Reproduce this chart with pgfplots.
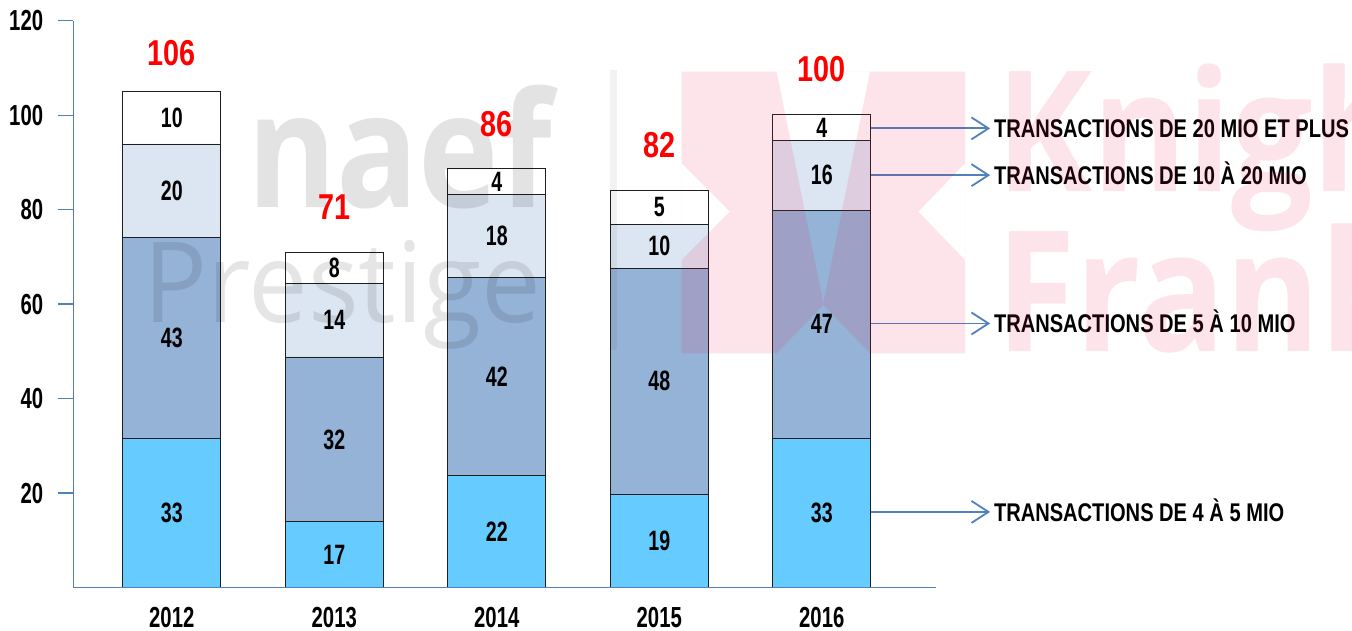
\documentclass[border=0pt]{standalone}
\usepackage{fontspec}
\setmainfont{Liberation Sans}
\newfontfamily\cf{Liberation Sans}[FakeStretch=0.70]
\newfontfamily\cfr{Liberation Sans}[FakeStretch=0.80]
\newfontfamily\cfl{Liberation Sans}[FakeStretch=0.785]
\newfontfamily\osb{Open Sans}[FakeStretch=0.85]
\newfontfamily\osr{Open Sans}[FakeStretch=0.95]
\newfontfamily\kff{Open Sans}[FakeStretch=0.86]
\usepackage{pgfplots}
\pgfplotsset{compat=1.18}
\usetikzlibrary{arrows.meta}
\definecolor{c1}{RGB}{102,204,255}
\definecolor{c2}{RGB}{149,179,215}
\definecolor{c3}{RGB}{220,230,242}
\definecolor{axblue}{RGB}{79,129,189}
\definecolor{kfred}{RGB}{230,30,80}
\definecolor{barline}{RGB}{30,30,30}
\begin{document}
\begin{tikzpicture}[x=1pt,y=1pt]
\useasboundingbox (0,0) rectangle (1352,631);
\begin{axis}[
  at={(73.3pt,43.5pt)}, anchor=south west,
  scale only axis, width=862.7pt, height=566.8pt,
  xmin=-0.606, xmax=4.703, ymin=0, ymax=120,
  ybar stacked, bar width=98pt,
  axis x line*=bottom, axis y line*=left,
  axis line style={draw=axblue, line width=1.3pt, -},
  xtick={0,1,2,3,4}, xticklabels={2012,2013,2014,2015,2016},
  ytick={20,40,60,80,100,120}, yticklabels={20,40,60,80,100,120},
  tick align=outside, major tick length=15pt,
  xtick style={draw=none},
  ytick style={draw=axblue, line width=1.3pt},
  /pgf/number format/assume math mode=true,
  ticklabel style={font=\cf\bfseries\fontsize{29}{29}\selectfont, inner sep=0pt},
  xticklabel style={anchor=north, yshift=-4.5pt},
  yticklabel style={anchor=east, xshift=-15pt},
  axis on top,
  clip=false,
]
\addplot[fill=c1, draw=barline, line width=0.9pt] coordinates {(0,31.6) (1,13.9) (2,23.8) (3,19.7) (4,31.6)};
\addplot[fill=c2, draw=barline, line width=0.9pt] coordinates {(0,42.6) (1,34.9) (2,41.8) (3,47.9) (4,48.3)};
\addplot[fill=c3, draw=barline, line width=0.9pt] coordinates {(0,19.7) (1,15.6) (2,17.6) (3,9.3) (4,14.8)};
\addplot[fill=white, draw=barline, line width=0.9pt] coordinates {(0,11.1) (1,6.5) (2,5.5) (3,7.2) (4,5.4)};
\tikzset{leg/.style={anchor=base west, text=black, inner sep=0pt, xshift=3pt, yshift=-9.2pt, font=\cfl\bfseries\fontsize{25.6}{25.6}\selectfont},
  arr/.style={draw=axblue, line width=1.8pt, -{Straight Barb[length=17pt,width=22pt]}}}
\draw[arr] (axis cs:4.3015,97.2) -- (axis cs:5.036,97.2) node[leg] {TRANSACTIONS DE 20 MIO ET PLUS};
\draw[arr] (axis cs:4.3015,87.3) -- (axis cs:5.036,87.3) node[leg] {TRANSACTIONS DE 10 À 20 MIO};
\draw[arr] (axis cs:4.3015,55.9) -- (axis cs:5.036,55.9) node[leg] {TRANSACTIONS DE 5 À 10 MIO};
\draw[arr] (axis cs:4.3015,16.0) -- (axis cs:5.036,16.0) node[leg] {TRANSACTIONS DE 4 À 5 MIO};
\end{axis}
% watermark
\begin{scope}
\clip (0,0) rectangle (1352,631);
\fill[black, opacity=0.05] (610,281) rectangle (617,561);
\node[anchor=base west, inner sep=0pt, text=black, text opacity=0.11, font=\osb\bfseries\fontsize{160}{160}\selectfont] at (247,423) {naef};
\node[anchor=base west, inner sep=0pt, text=black, text opacity=0.10, font=\osr\fontsize{112}{112}\selectfont] at (143,308) {Prestige};
\fill[kfred, opacity=0.12, even odd rule]
  (681.7,559.3) rectangle (965,277.7)
  (776.7,559.3) -- (870,559.3) -- (823.3,328) -- cycle
  (681.7,467.7) -- (730,419.3) -- (681.7,371) -- cycle
  (965,467.7) -- (918.3,419.3) -- (965,371) -- cycle
  (776.7,277.7) -- (870,277.7) -- (823.3,326) -- cycle;
\node[anchor=base west, inner sep=0pt, text=kfred, text opacity=0.12, font=\kff\bfseries\fontsize{168}{168}\selectfont] at (996,439) {Knight};
\node[anchor=base west, inner sep=0pt, text=kfred, text opacity=0.12, font=\kff\bfseries\fontsize{168}{168}\selectfont] at (996,279) {Frank};
\end{scope}
\begin{axis}[
  at={(73.3pt,43.5pt)}, anchor=south west,
  scale only axis, width=862.7pt, height=566.8pt,
  xmin=-0.606, xmax=4.703, ymin=0, ymax=120,
  axis lines=none, clip=false,
]
\addplot[only marks, mark=none,
  nodes near coords, point meta=explicit symbolic, nodes near coords align={center},
  nodes near coords style={anchor=center, inner sep=0pt, text=black, font=\cf\bfseries\fontsize{28}{28}\selectfont}]
  coordinates {
  (0,15.8) [33] (0,52.9) [43] (0,84.05) [20] (0,99.45) [10]
  (1,6.95) [17] (1,31.35) [32] (1,56.6) [14] (1,67.65) [8]
  (2,11.9) [22] (2,44.7) [42] (2,74.4) [18] (2,85.95) [4]
  (3,9.85) [19] (3,43.65) [48] (3,72.25) [10] (3,80.5) [5]
  (4,15.8) [33] (4,55.75) [47] (4,87.3) [16] (4,97.4) [4]
  };
\addplot[only marks, mark=none,
  nodes near coords, point meta=explicit symbolic, nodes near coords align={center},
  nodes near coords style={anchor=center, inner sep=0pt, text=red, font=\cfr\bfseries\fontsize{36}{36}\selectfont}]
  coordinates {(0,113.2) [106] (1,80.5) [71] (2,98.05) [86] (3,93.65) [82] (4,109.7) [100]};
\end{axis}
\end{tikzpicture}
\end{document}
